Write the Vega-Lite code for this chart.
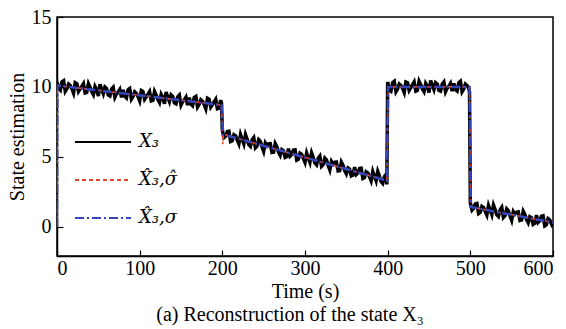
{
  "$schema": "https://vega.github.io/schema/vega-lite/v6.json",
  "autosize": "none",
  "width": 496,
  "height": 239,
  "padding": {"left": 57, "top": 17, "right": 13, "bottom": 73},
  "background": "white",
  "title": {"text": "(a) Reconstruction of the state X₃", "orient": "bottom", "anchor": "middle", "font": "Liberation Serif", "fontSize": 20, "fontWeight": "normal", "color": "black", "offset": 4, "dx": -15},
  "config": {
    "view": {"stroke": "black", "strokeWidth": 1.5},
    "axis": {"grid": false, "domainColor": "black", "domainWidth": 1.5, "tickColor": "black", "tickWidth": 1.2, "tickSize": -6, "labelFont": "Liberation Serif", "labelFontSize": 20, "labelColor": "black", "titleFont": "Liberation Serif", "titleFontSize": 20, "titleFontWeight": "normal", "titleColor": "black"}
  },
  "datasets": {
    "truth": [
      {"t":0,"v":10.35},{"t":4,"v":9.77},{"t":8,"v":10.44},{"t":12,"v":9.87},{"t":16,"v":10.09},{"t":20,"v":9.56},{"t":24,"v":10.23},{"t":28,"v":9.85},{"t":32,"v":10.23},{"t":36,"v":9.60},
      {"t":40,"v":9.97},{"t":44,"v":9.44},{"t":48,"v":9.81},{"t":52,"v":10.19},{"t":56,"v":9.51},{"t":60,"v":9.88},{"t":64,"v":9.35},{"t":68,"v":9.97},{"t":72,"v":9.50},{"t":76,"v":9.82},
      {"t":80,"v":9.79},{"t":84,"v":9.21},{"t":88,"v":9.88},{"t":92,"v":9.31},{"t":96,"v":9.53},{"t":100,"v":9.00},{"t":104,"v":9.67},{"t":108,"v":9.29},{"t":112,"v":9.67},{"t":116,"v":9.04},
      {"t":120,"v":9.41},{"t":124,"v":8.88},{"t":128,"v":9.25},{"t":132,"v":9.63},{"t":136,"v":8.95},{"t":140,"v":9.32},{"t":144,"v":8.79},{"t":148,"v":9.41},{"t":152,"v":8.94},{"t":156,"v":9.26},
      {"t":160,"v":9.23},{"t":164,"v":8.65},{"t":168,"v":9.32},{"t":172,"v":8.75},{"t":176,"v":8.97},{"t":180,"v":8.44},{"t":184,"v":9.11},{"t":188,"v":8.73},{"t":192,"v":9.11},{"t":196,"v":8.48},
      {"t":199,"v":8.85},
      {"t":200,"v":6.90},{"t":204,"v":6.48},{"t":208,"v":6.82},{"t":212,"v":6.15},{"t":216,"v":6.49},{"t":220,"v":5.92},{"t":224,"v":6.25},{"t":228,"v":6.59},{"t":232,"v":5.87},{"t":236,"v":6.21},
      {"t":240,"v":5.64},{"t":244,"v":6.22},{"t":248,"v":5.71},{"t":252,"v":5.99},{"t":256,"v":5.93},{"t":260,"v":5.31},{"t":264,"v":5.94},{"t":268,"v":5.33},{"t":272,"v":5.51},{"t":276,"v":4.95},
      {"t":280,"v":5.58},{"t":284,"v":5.16},{"t":288,"v":5.50},{"t":292,"v":4.83},{"t":296,"v":5.17},{"t":300,"v":4.60},{"t":304,"v":4.93},{"t":308,"v":5.27},{"t":312,"v":4.55},{"t":316,"v":4.89},
      {"t":320,"v":4.32},{"t":324,"v":4.90},{"t":328,"v":4.39},{"t":332,"v":4.67},{"t":336,"v":4.61},{"t":340,"v":3.99},{"t":344,"v":4.62},{"t":348,"v":4.01},{"t":352,"v":4.19},{"t":356,"v":3.63},
      {"t":360,"v":4.26},{"t":364,"v":3.84},{"t":368,"v":4.18},{"t":372,"v":3.51},{"t":376,"v":3.85},{"t":380,"v":3.28},{"t":384,"v":3.61},{"t":388,"v":3.95},{"t":392,"v":3.23},{"t":396,"v":3.57},
      {"t":399,"v":3.02},
      {"t":400,"v":10.35},{"t":404,"v":9.70},{"t":408,"v":10.40},{"t":412,"v":9.85},{"t":416,"v":10.10},{"t":420,"v":9.60},{"t":424,"v":10.30},{"t":428,"v":9.95},{"t":432,"v":10.35},{"t":436,"v":9.75},
      {"t":440,"v":10.15},{"t":444,"v":9.65},{"t":448,"v":10.05},{"t":452,"v":10.45},{"t":456,"v":9.80},{"t":460,"v":10.20},{"t":464,"v":9.70},{"t":468,"v":10.35},{"t":472,"v":9.90},{"t":476,"v":10.25},
      {"t":480,"v":10.25},{"t":484,"v":9.70},{"t":488,"v":10.40},{"t":492,"v":9.85},{"t":496,"v":10.10},{"t":499,"v":9.65},
      {"t":500,"v":1.70},{"t":504,"v":1.31},{"t":508,"v":1.66},{"t":512,"v":1.02},{"t":516,"v":1.37},{"t":520,"v":0.83},{"t":524,"v":1.19},{"t":528,"v":1.54},{"t":532,"v":0.85},{"t":536,"v":1.20},
      {"t":540,"v":0.66},{"t":544,"v":1.27},{"t":548,"v":0.77},{"t":552,"v":1.08},{"t":556,"v":1.03},{"t":560,"v":0.44},{"t":564,"v":1.10},{"t":568,"v":0.50},{"t":572,"v":0.71},{"t":576,"v":0.16},
      {"t":580,"v":0.82},{"t":584,"v":0.43},{"t":588,"v":0.78},{"t":592,"v":0.14},{"t":596,"v":0.49},{"t":600,"v":-0.05},
      {"t":2,"v":9.89},{"t":6,"v":10.36},{"t":10,"v":9.68},{"t":14,"v":10.20},{"t":18,"v":9.87},{"t":22,"v":10.30},{"t":26,"v":9.67},{"t":30,"v":10.04},{"t":34,"v":9.56},{"t":38,"v":10.23},
      {"t":42,"v":9.66},{"t":46,"v":10.03},{"t":50,"v":9.35},{"t":54,"v":9.82},{"t":58,"v":9.99},{"t":62,"v":9.42},{"t":66,"v":9.84},{"t":70,"v":9.26},{"t":74,"v":9.63},{"t":78,"v":9.25},
      {"t":82,"v":9.33},{"t":86,"v":9.80},{"t":90,"v":9.12},{"t":94,"v":9.64},{"t":98,"v":9.31},{"t":102,"v":9.74},{"t":106,"v":9.11},{"t":110,"v":9.48},{"t":114,"v":9.00},{"t":118,"v":9.67},
      {"t":122,"v":9.10},{"t":126,"v":9.47},{"t":130,"v":8.79},{"t":134,"v":9.26},{"t":138,"v":9.43},{"t":142,"v":8.86},{"t":146,"v":9.28},{"t":150,"v":8.70},{"t":154,"v":9.07},{"t":158,"v":8.69},
      {"t":162,"v":8.77},{"t":166,"v":9.24},{"t":170,"v":8.56},{"t":174,"v":9.08},{"t":178,"v":8.75},{"t":182,"v":9.18},{"t":186,"v":8.55},{"t":190,"v":8.92},{"t":194,"v":8.44},{"t":198,"v":9.05},
      {"t":202,"v":6.37},{"t":206,"v":6.80},{"t":210,"v":6.09},{"t":214,"v":6.57},{"t":218,"v":6.20},{"t":222,"v":6.59},{"t":226,"v":5.92},{"t":230,"v":6.26},{"t":234,"v":5.74},{"t":238,"v":6.37},
      {"t":242,"v":5.76},{"t":246,"v":6.09},{"t":250,"v":5.38},{"t":254,"v":5.81},{"t":258,"v":5.94},{"t":262,"v":5.33},{"t":266,"v":5.71},{"t":270,"v":5.10},{"t":274,"v":5.43},{"t":278,"v":5.01},
      {"t":282,"v":5.05},{"t":286,"v":5.48},{"t":290,"v":4.77},{"t":294,"v":5.25},{"t":298,"v":4.88},{"t":302,"v":5.27},{"t":306,"v":4.60},{"t":310,"v":4.94},{"t":314,"v":4.42},{"t":318,"v":5.05},
      {"t":322,"v":4.44},{"t":326,"v":4.77},{"t":330,"v":4.06},{"t":334,"v":4.49},{"t":338,"v":4.62},{"t":342,"v":4.01},{"t":346,"v":4.39},{"t":350,"v":3.78},{"t":354,"v":4.11},{"t":358,"v":3.69},
      {"t":362,"v":3.73},{"t":366,"v":4.16},{"t":370,"v":3.45},{"t":374,"v":3.93},{"t":378,"v":3.56},{"t":382,"v":3.95},{"t":386,"v":3.28},{"t":390,"v":3.62},{"t":394,"v":3.10},{"t":398,"v":3.73},
      {"t":402,"v":9.80},{"t":406,"v":10.30},{"t":410,"v":9.65},{"t":414,"v":10.20},{"t":418,"v":9.90},{"t":422,"v":10.35},{"t":426,"v":9.75},{"t":430,"v":10.15},{"t":434,"v":9.70},{"t":438,"v":10.40},
      {"t":442,"v":9.85},{"t":446,"v":10.25},{"t":450,"v":9.60},{"t":454,"v":10.10},{"t":458,"v":10.30},{"t":462,"v":9.75},{"t":466,"v":10.20},{"t":470,"v":9.65},{"t":474,"v":10.05},{"t":478,"v":9.70},
      {"t":482,"v":9.80},{"t":486,"v":10.30},{"t":490,"v":9.65},{"t":494,"v":10.20},{"t":498,"v":9.90},
      {"t":502,"v":1.18},{"t":506,"v":1.63},{"t":510,"v":0.94},{"t":514,"v":1.45},{"t":518,"v":1.10},{"t":522,"v":1.51},{"t":526,"v":0.86},{"t":530,"v":1.22},{"t":534,"v":0.73},{"t":538,"v":1.38},
      {"t":542,"v":0.79},{"t":546,"v":1.14},{"t":550,"v":0.45},{"t":554,"v":0.91},{"t":558,"v":1.06},{"t":562,"v":0.47},{"t":566,"v":0.87},{"t":570,"v":0.28},{"t":574,"v":0.64},{"t":578,"v":0.24},
      {"t":582,"v":0.30},{"t":586,"v":0.75},{"t":590,"v":0.06},{"t":594,"v":0.57},{"t":598,"v":0.22}
    ],
    "est": [
      {"s":"X̂₃,σ̂","t":0,"v":0},{"s":"X̂₃,σ̂","t":0.5,"v":10.1},{"s":"X̂₃,σ̂","t":199,"v":8.7},{"s":"X̂₃,σ̂","t":200.5,"v":5.9},{"s":"X̂₃,σ̂","t":201.5,"v":6.6},{"s":"X̂₃,σ̂","t":399,"v":3.3},{"s":"X̂₃,σ̂","t":400.5,"v":10.0},{"s":"X̂₃,σ̂","t":499,"v":10.0},{"s":"X̂₃,σ̂","t":500.5,"v":1.4},{"s":"X̂₃,σ̂","t":600,"v":0.3},
      {"s":"X̂₃,σ","t":0,"v":0},{"s":"X̂₃,σ","t":0.5,"v":10.1},{"s":"X̂₃,σ","t":199,"v":8.7},{"s":"X̂₃,σ","t":201,"v":6.6},{"s":"X̂₃,σ","t":399,"v":3.3},{"s":"X̂₃,σ","t":400.5,"v":10.0},{"s":"X̂₃,σ","t":499,"v":10.0},{"s":"X̂₃,σ","t":500.5,"v":1.4},{"s":"X̂₃,σ","t":600,"v":0.3}
    ]
  },
  "encoding": {
    "x": {"field": "t", "type": "quantitative", "scale": {"domain": [0, 600], "nice": false}, "axis": {"values": [0,100,200,300,400,500,600], "title": "Time (s)", "labelPadding": 8, "titlePadding": 3}},
    "y": {"field": "v", "type": "quantitative", "scale": {"domain": [-2.1, 15], "nice": false, "zero": false}, "axis": {"values": [0,5,10,15], "title": "State estimation", "labelPadding": 12, "titlePadding": 4}},
    "color": {"field": "s", "type": "nominal", "scale": {"domain": ["X₃","X̂₃,σ̂","X̂₃,σ"], "range": ["black","#e5452c","#3446bd"]},
      "legend": {"title": null, "orient": "none", "legendX": 17, "legendY": 96, "symbolType": "stroke", "symbolSize": 3136, "symbolStrokeWidth": 2, "labelFont": "DejaVu Serif", "labelFontSize": 18, "labelFontStyle": "italic", "labelColor": "black", "labelOffset": 7, "rowPadding": -11, "padding": 0}},
    "strokeDash": {"field": "s", "type": "nominal", "scale": {"domain": ["X₃","X̂₃,σ̂","X̂₃,σ"], "range": [[1,0],[4,3],[9,3,2,3]]}, "legend": null}
  },
  "layer": [
    {"data": {"name": "truth"}, "transform": [{"calculate": "'X₃'", "as": "s"}], "mark": {"type": "line", "strokeWidth": 3.5, "clip": true}},
    {"data": {"name": "est"}, "transform": [{"filter": "datum.s === 'X̂₃,σ̂'"}], "mark": {"type": "line", "strokeWidth": 1.6, "clip": true}},
    {"data": {"name": "est"}, "transform": [{"filter": "datum.s === 'X̂₃,σ'"}], "mark": {"type": "line", "strokeWidth": 2.5, "clip": true}}
  ]
}
